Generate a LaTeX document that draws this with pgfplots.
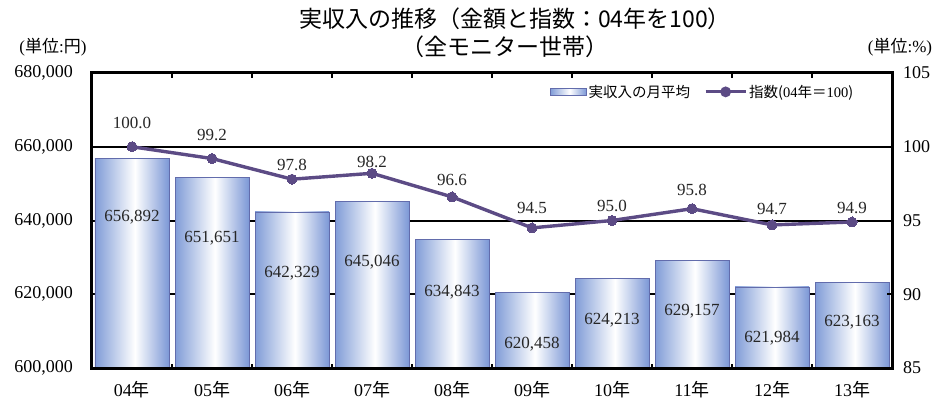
\documentclass[border=0pt]{standalone}
\usepackage{fontspec}
\setmainfont{Liberation Serif}
\newfontfamily\jp{Noto Sans CJK JP}
\usepackage{graphicx}
\usepackage{pgfplots}
\pgfplotsset{compat=1.18}
\usepackage{pgfplotstable}

\definecolor{barL}{RGB}{128,156,215}
\definecolor{barR}{RGB}{124,152,214}
\definecolor{barEdge}{RGB}{98,108,172}
\definecolor{lineCol}{RGB}{92,75,133}
\pgfdeclarehorizontalshading{barshade}{100bp}{color(0bp)=(barL); color(25bp)=(barL); color(52bp)=(white); color(75bp)=(barR); color(100bp)=(barR)}

\newcommand{\nen}[1]{#1{\jp 年}}
\pgfplotsset{onebar/.style={ybar, bar width=0.925, bar shift=0pt, draw=barEdge, line width=0.8pt, shade, shading=barshade, forget plot}}

\pgfplotstableread{
x val ly lab
0 656892 640950 656,892
1 651651 635250 651,651
2 642329 625760 642,329
3 645046 628750 645,046
4 634843 620610 634,843
5 620458 606510 620,458
6 624213 613020 624,213
7 629157 615460 629,157
8 621984 608140 621,984
9 623163 612475 623,163
}\bardata

\pgfplotstableread{
x idx ly lab
0 100.0 101.61 100.0
1 99.2 100.80 99.2
2 97.8 98.76 97.8
3 98.2 98.97 98.2
4 96.6 97.75 96.6
5 94.5 95.85 94.5
6 95.0 95.98 95.0
7 95.8 97.07 95.8
8 94.7 95.78 94.7
9 94.9 95.85 94.9
}\idxdata

\begin{document}
\begin{tikzpicture}
\path[use as bounding box] (-92pt,-47pt) rectangle (858pt,368pt);
\begin{axis}[
  at={(0pt,0pt)}, anchor=south west,
  width=800pt, height=295pt, scale only axis,
  xmin=-0.5, xmax=9.5, ymin=600000, ymax=680000,
  ytick={600000,620000,640000,660000,680000},
  scaled y ticks=false,
  xtick={0,...,9},
  xticklabels={\nen{04},\nen{05},\nen{06},\nen{07},\nen{08},\nen{09},\nen{10},\nen{11},\nen{12},\nen{13}},
  minor xtick={0.5,1.5,...,8.5},
  major tick length=0pt, minor tick length=4.5pt,
  minor tick style={line width=1.8pt, black},
  tick align=inside,
  axis line style={line width=2.6pt},
  ymajorgrids, grid style={black, line width=2pt},
  ticklabel style={font=\fontsize{18}{20}\selectfont},
  yticklabel style={anchor=east, inner sep=0pt, xshift=-19pt,
    /pgf/number format/fixed, /pgf/number format/1000 sep={,},
    /pgf/number format/assume math mode=true},
  xticklabel style={anchor=north, inner sep=0pt, yshift=-13pt},
]
\addplot[onebar] coordinates {(0,656892)};
\addplot[onebar] coordinates {(1,651651)};
\addplot[onebar] coordinates {(2,642329)};
\addplot[onebar] coordinates {(3,645046)};
\addplot[onebar] coordinates {(4,634843)};
\addplot[onebar] coordinates {(5,620458)};
\addplot[onebar] coordinates {(6,624213)};
\addplot[onebar] coordinates {(7,629157)};
\addplot[onebar] coordinates {(8,621984)};
\addplot[onebar] coordinates {(9,623163)};
\addplot[only marks, mark=*, mark options={draw=none, fill=none}, mark size=0pt,
  nodes near coords, point meta=explicit symbolic,
  nodes near coords style={anchor=center, font=\fontsize{17}{19}\selectfont, text=black!85}]
  table[x=x, y=ly, meta=lab] {\bardata};
\end{axis}
\begin{axis}[
  at={(0pt,0pt)}, anchor=south west,
  width=800pt, height=295pt, scale only axis,
  xmin=-0.5, xmax=9.5, ymin=85, ymax=105,
  ytick={85,90,95,100,105},
  xtick=\empty,
  ytick pos=right, yticklabel pos=right,
  tick align=inside, major tick length=5pt,
  tick style={line width=1.8pt, black},
  axis line style={line width=2.6pt},
  ticklabel style={font=\fontsize{18}{20}\selectfont},
  yticklabel style={anchor=west, inner sep=0pt, xshift=11pt,
    /pgf/number format/assume math mode=true},
  legend style={at={(0.958,0.936)}, anchor=east, draw=none, fill=none,
    legend columns=2, font=\jp\fontsize{14.5}{16}\selectfont,
    /tikz/every even column/.append style={column sep=12pt},
    legend cell align=left},
]
\addlegendimage{legend image code/.code={\shade[shading=barshade, draw=barEdge, line width=0.8pt] (0pt,-3.5pt) rectangle (36pt,3.5pt);}}
\addlegendentry{実収入の月平均}
\addplot[lineCol, line width=3.4pt, mark=*, mark size=5pt, mark options={fill=lineCol, draw=lineCol, line width=0pt},
  legend image code/.code={\draw[lineCol, line width=3pt] (0pt,0pt) -- (40pt,0pt); \fill[lineCol] (20pt,0pt) circle (3.6pt);}]
  table[x=x, y=idx] {\idxdata};
\addlegendentry{指数({\rmfamily 04}年＝{\rmfamily 100})}
\addplot[forget plot, only marks, mark=*, mark options={draw=none, fill=none}, mark size=0pt,
  nodes near coords, point meta=explicit symbolic,
  nodes near coords style={anchor=center, font=\fontsize{17}{19}\selectfont, text=black!85}]
  table[x=x, y=ly, meta=lab] {\idxdata};
\end{axis}
\draw[black, line width=3pt] (0pt,0pt) rectangle (800pt,295pt);
\node[font=\jp\fontsize{23}{25}\selectfont] at (423pt,349pt) {実収入の推移（金額と指数：04年を100）};
\node[font=\jp\fontsize{23}{25}\selectfont] at (413pt,321pt) {（全モニター世帯）};
\node[font=\fontsize{17}{19}\selectfont] at (-39pt,321pt) {({\jp 単位}:{\jp 円})};
\node[font=\fontsize{17}{19}\selectfont] at (808pt,321pt) {({\jp 単位}:\%)};
\end{tikzpicture}
\end{document}
